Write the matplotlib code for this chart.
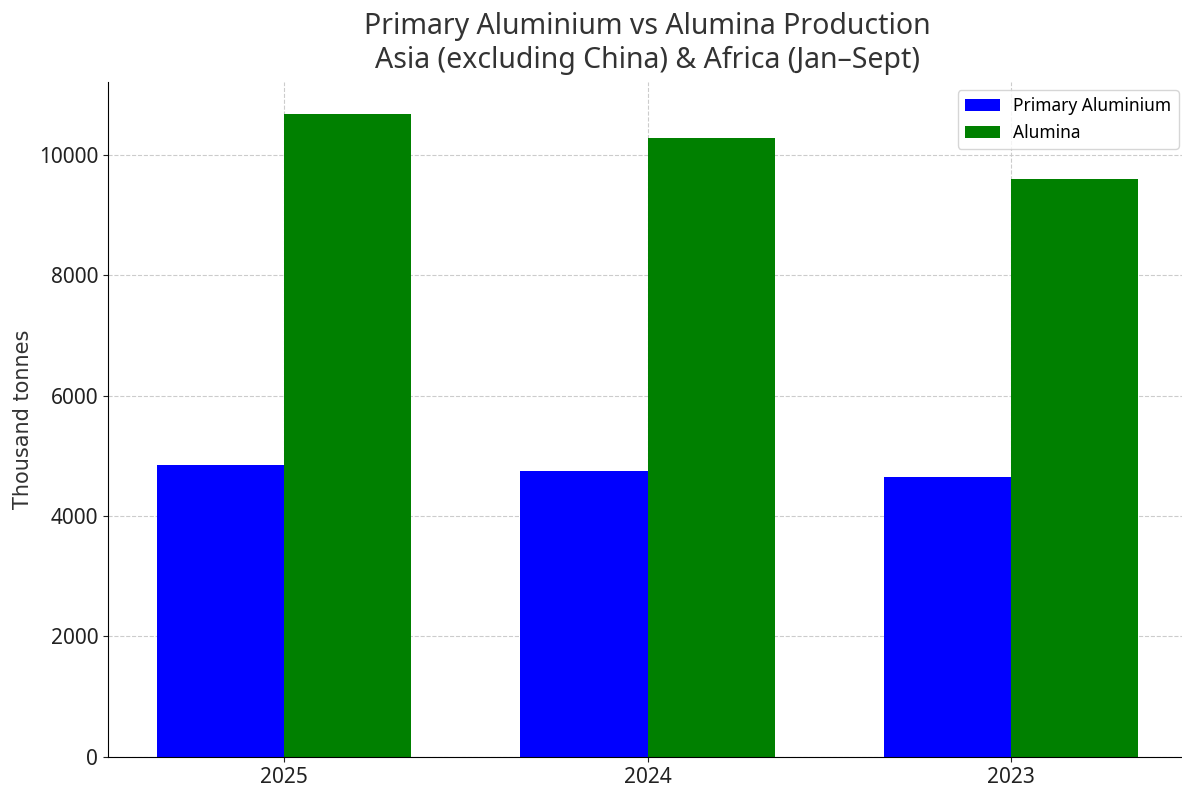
import numpy as np
import matplotlib
matplotlib.use("Agg")
import matplotlib.pyplot as plt

plt.rcParams['font.family'] = ['Noto Sans', 'DejaVu Sans']

years = ['2025', '2024', '2023']
primary_aluminium = [4840, 4750, 4650]
alumina = [10680, 10270, 9590]

x = np.arange(len(years))
width = 0.35

fig = plt.figure(figsize=(11.82, 8), dpi=100)
ax = fig.add_axes([0.0914, 0.054, 0.913, 0.844])

ax.bar(x - width / 2, primary_aluminium, width, color='blue', label='Primary Aluminium')
ax.bar(x + width / 2, alumina, width, color='green', label='Alumina')

ax.set_xticks(x)
ax.set_xticklabels(years)
ax.tick_params(labelsize=15, colors='#222222')
ax.set_ylabel('Thousand tonnes', fontsize=15, color='#333333', family='DejaVu Sans', labelpad=4)
ax.set_title('Primary Aluminium vs Alumina Production\nAsia (excluding China) & Africa (Jan\u2013Sept)',
             fontsize=20.5, color='#333333', pad=10)

ax.grid(True, linestyle='--', color='#cccccc', linewidth=0.8)
ax.set_axisbelow(True)
ax.spines['top'].set_visible(False)
ax.spines['right'].set_visible(False)

ax.legend(fontsize=12.5, loc='upper right')

fig.savefig('out.png', dpi=100)
